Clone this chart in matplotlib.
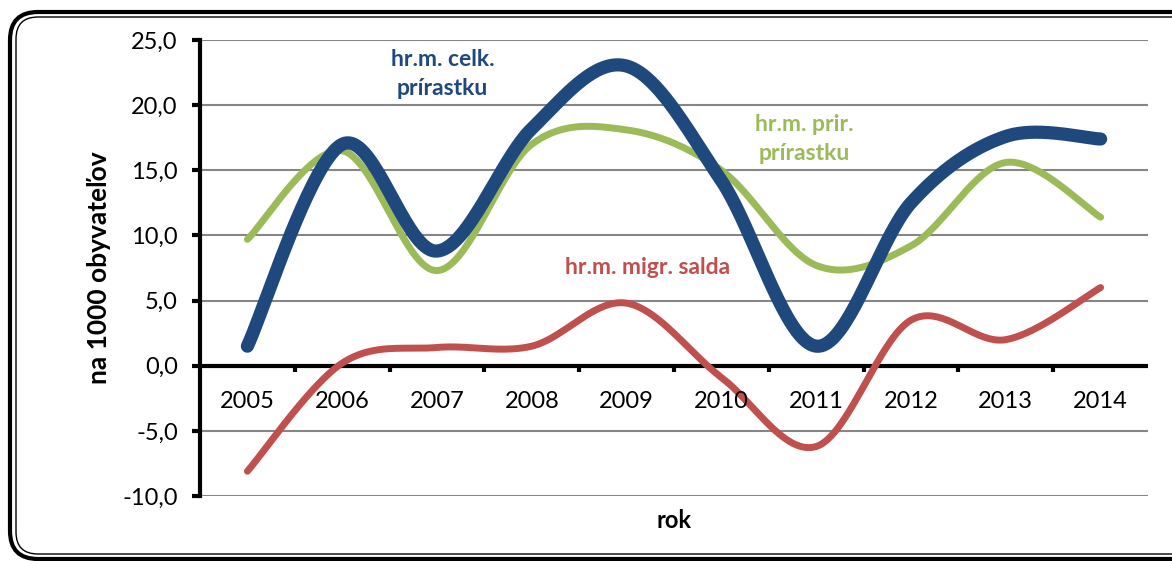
import numpy as np
import matplotlib
matplotlib.use("Agg")
import matplotlib.pyplot as plt
from matplotlib.patches import FancyBboxPatch

plt.rcParams['font.family'] = ['Lato', 'DejaVu Sans']

# data (hrubá miera na 1000 obyvateľov)
roky = ["2005", "2006", "2007", "2008", "2009", "2010", "2011", "2012", "2013", "2014"]
celk_prirastok = [1.5, 17.0, 8.8, 18.2, 23.0, 14.2, 1.5, 12.5, 17.6, 17.4]
prir_prirastok = [9.7, 16.5, 7.3, 17.0, 18.1, 15.0, 7.7, 9.2, 15.6, 11.4]
migr_saldo = [-8.1, 0.2, 1.4, 1.5, 4.8, -0.9, -6.2, 3.5, 2.0, 6.0]

y_ticks = [-10, -5, 0, 5, 10, 15, 20, 25]

blue = "#1f497d"
green = "#9bbb59"
red = "#c0504d"


def smooth(x, y, n=40):
    # Excel-like smoothed line (Catmull-Rom via Bezier)
    x = np.asarray(x, float)
    y = np.asarray(y, float)
    px = np.concatenate([[x[0]], x, [x[-1]]])
    py = np.concatenate([[y[0]], y, [y[-1]]])
    xs, ys = [], []
    t = np.linspace(0, 1, n)
    for i in range(1, len(px) - 2):
        p0 = np.array([px[i], py[i]])
        p3 = np.array([px[i + 1], py[i + 1]])
        c1 = p0 + (p3 - np.array([px[i - 1], py[i - 1]])) / 6
        c2 = p3 - (np.array([px[i + 2], py[i + 2]]) - p0) / 6
        b = ((1 - t) ** 3)[:, None] * p0 + (3 * (1 - t) ** 2 * t)[:, None] * c1 \
            + (3 * (1 - t) * t ** 2)[:, None] * c2 + (t ** 3)[:, None] * p3
        xs.append(b[:, 0])
        ys.append(b[:, 1])
    return np.concatenate(xs), np.concatenate(ys)


W, H = 1172, 561
fig = plt.figure(figsize=(W / 100, H / 100), dpi=100)

# rounded double frame, drawn in pixel coordinates
bg = fig.add_axes([0, 0, 1, 1], zorder=0)
bg.set_xlim(0, W)
bg.set_ylim(H, 0)
bg.axis("off")
bg.add_patch(FancyBboxPatch((10, 12), 1200, 547, boxstyle="round,pad=0,rounding_size=28",
                            fill=False, lw=3.0, ec="black"))
bg.add_patch(FancyBboxPatch((16, 17), 1190, 537, boxstyle="round,pad=0,rounding_size=22",
                            fill=False, lw=1.0, ec="black"))

ax = fig.add_axes([200 / W, (H - 496) / H, 948 / W, 456 / H], zorder=1)
ax.patch.set_alpha(0)
x = np.arange(len(roky))
ax.set_xlim(-0.5, len(roky) - 0.5)
ax.set_ylim(-10, 25)

for v in y_ticks:
    ax.axhline(v, color="#868686", lw=1.5, zorder=1)
ax.axhline(0, color="black", lw=3, zorder=2)

for yy, c, w in [(migr_saldo, red, 5), (prir_prirastok, green, 5), (celk_prirastok, blue, 9.5)]:
    sx, sy = smooth(x, yy)
    ax.plot(sx, sy, color=c, lw=w, solid_capstyle="round", zorder=3)

for s in ["top", "right", "bottom"]:
    ax.spines[s].set_visible(False)
ax.spines["left"].set_linewidth(3)

ax.set_yticks(y_ticks)
ax.set_yticklabels([f"{v:.1f}".replace(".", ",") for v in y_ticks], fontsize=17)
ax.tick_params(axis="y", length=6, width=3, pad=10)
ax.set_xticks([])

# category ticks on the zero line
for b in np.arange(0.5, len(roky) - 1, 1.0):
    ax.plot([b, b], [0, -0.5], color="black", lw=3, zorder=2, solid_capstyle="butt")
for i, r in enumerate(roky):
    ax.text(i, -2.75, r, ha="center", va="center", fontsize=17)

ax.set_ylabel("na 1000 obyvateľov", fontsize=19, fontweight="bold", labelpad=8)
ax.text(4.5, -11.9, "rok", ha="center", va="center", fontsize=17, fontweight="bold")

ax.text(2.06, 22.4, "hr.m. celk.\nprírastku", ha="center", va="center", color=blue,
        fontsize=16.5, fontweight="bold", linespacing=1.45)
ax.text(5.87, 17.4, "hr.m. prir.\nprírastku", ha="center", va="center", color=green,
        fontsize=16.5, fontweight="bold", linespacing=1.45)
ax.text(4.22, 7.5, "hr.m. migr. salda", ha="center", va="center", color=red,
        fontsize=16.5, fontweight="bold")

fig.savefig("out.png", dpi=100)
